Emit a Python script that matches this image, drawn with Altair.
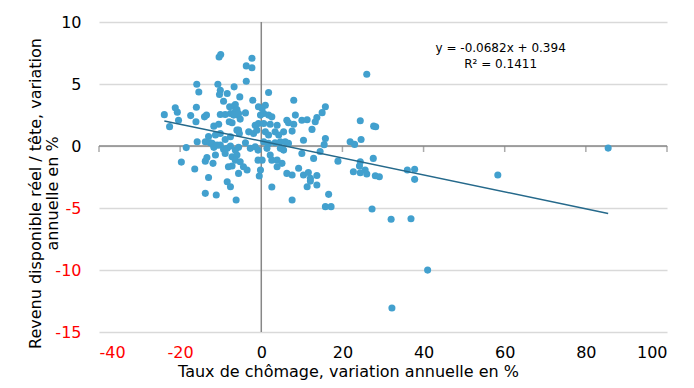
import altair as alt
import pandas as pd

# Scatter values
x_vals = [
    -23.9, -21.2, -20.7, -20.4, -22.6, -17.4, -18.5, -19.7, -16.4, -16.0,
    -16.1, -15.9, -15.4, -14.0, -13.5, -15.8, -13.8, -13.0, -12.6, -13.8,
    -13.4, -11.9, -13.0, -13.8, -11.1, -11.7, -10.5, -10.7, -10.1, -10.3,
    -8.4, -6.7, -10.0, -10.4, -9.3, -10.1, -8.9, -7.6, -6.8, -6.4,
    -5.8, -7.2, -5.2, -3.9, -5.6, -7.6, -11.3, -10.1, -8.9, -12.1,
    -11.7, -10.9, -10.1, -9.3, -8.4, -7.6, -6.4, -5.6, -3.9, -2.7,
    -1.5, -0.8, -11.3, -8.9, -7.2, -6.0, -6.4, -7.2, -8.1, -5.2,
    -4.4, -3.5, -5.6, -8.4, -7.6, -6.2, -0.8, -0.5, -5.3, -6.4,
    -7.8, -6.0, -6.8, -5.6, -7.9, -6.0, -5.4, -3.1, -1.9, -1.1,
    -1.5, -0.7, -3.7, -3.7, -2.3, -2.3, -2.1, -0.7,
    1.8, 8.0, 1.0, 0.2, 0.6, -0.2, 1.8, 2.6, 8.4, 15.8,
    15.0, 13.7, 13.3, 10.0, 11.3, 6.3, 6.7, 8.0, 0.6, 2.2,
    3.9, 12.5, 7.6, 5.5, 1.0, 1.8, 3.4, 4.3, 15.8, 15.5,
    10.4, 4.7, 5.9, 6.7, 0.6, 1.8, 3.4, 1.4, 4.7, 5.5,
    14.5, 10.0, 12.9, 2.2, 2.6, 3.9, 0.2, -0.2, 3.9, 5.1,
    6.3, 7.6, 9.2, 10.4, 11.6, 12.1, 13.7, 11.3, 13.7, 2.6,
    26.0, 24.4, 27.7, 28.2, 21.9, 23.0, 24.6, 18.9, 24.4, 24.2,
    27.6, 22.7, 24.4, 25.6, 26.0, 28.1, 29.1, 12.1, 7.6, 16.6,
    15.8, 17.2, 27.3, 32.0, 36.9, 41.0, 32.2, 36.0, 37.8, 37.8,
    58.3, 85.5,
]
y_vals = [
    2.53, 3.09, 2.73, 2.08, 1.56, 2.45, -0.13, -1.30, -1.86, 3.13,
    1.95, 4.98, 4.36, 2.35, 2.49, 0.34, 0.34, 0.76, 0.26, -1.22,
    -0.93, -1.40, -2.54, -3.82, -3.95, 1.60, 1.76, 4.98, 4.50, 4.15,
    4.23, 4.77, 7.37, 7.18, 3.61, 2.54, 2.54, 2.62, 3.21, 2.75,
    2.49, 1.87, 2.17, 2.67, 1.28, 0.74, 0.88, 1.01, 0.53, 0.21,
    -0.11, 0.07, 0.07, -0.27, -0.19, -0.01, -0.33, -0.11, 0.26, -0.19,
    -0.06, -0.33, -0.73, -0.60, -0.87, -0.73, -1.14, -1.62, -1.67, -1.27,
    -1.67, -1.94, -2.21, -2.88, -3.28, -4.36, -1.14, -2.42, 3.96, 3.35,
    3.16, 2.95, 2.49, 2.62, 1.95, 1.28, 1.01, 1.14, 1.01, 1.28,
    1.68, 1.82, 5.22, 6.46, 6.31, 7.08, 3.69, 3.16,
    4.31, 3.69, 3.29, 3.03, 2.62, 2.49, 2.49, 2.35, 2.49, 3.16,
    2.69, 2.29, 1.95, 2.08, 2.11, 2.08, 1.87, 1.76, 1.82, 1.76,
    1.68, 1.34, 1.20, 1.14, 1.14, 0.88, 1.14, 0.88, 0.61, 0.11,
    0.47, 0.34, 0.34, 0.21, 0.34, 0.21, 0.26, -0.19, -0.19, -0.33,
    -0.45, -0.60, -1.00, -0.73, -1.14, -1.14, -1.14, -1.94, -1.67, -1.40,
    -2.21, -2.34, -1.80, -2.34, -2.14, -2.61, -2.38, -3.28, -3.15, -3.31,
    5.79, 2.03, 1.60, 1.55, 0.34, 0.13, 0.53, -1.22, -1.27, -1.62,
    -1.00, -2.08, -2.16, -1.94, -2.26, -2.40, -2.48, -2.83, -4.36, -3.90,
    -4.89, -4.89, -5.08, -5.91, -5.86, -10.01, -13.07, -1.94, -1.88, -2.69,
    -2.34, -0.17,
]
assert len(x_vals) == len(y_vals)

slope = -0.0682
intercept = 0.394
eq_lines = ["y = -0.0682x + 0.394", "R² = 0.1411"]
eq_x = [59.0, 59.0]
eq_y = [7.9, 6.6]

x_ticks = [-40, -20, 0, 20, 40, 60, 80, 100]
y_ticks = [-15, -10, -5, 0, 5, 10]
x_title = "Taux de chômage, variation annuelle en %"
y_title = ["Revenu disponible réel / tête, variation", "annuelle en %"]

FONT = "DejaVu Sans"
POINT = "#42A0CE"
TREND = "#25698B"
AXISLINE = "#878787"
GRID = "#D9D9D9"

df = pd.DataFrame({"x": x_vals, "y": y_vals})
xmin, xmax = min(x_vals), max(x_vals)
trend_df = pd.DataFrame({"x": [xmin, xmax], "y": [slope * xmin + intercept, slope * xmax + intercept]})
eq_df = pd.DataFrame({"x": eq_x, "y": eq_y, "t": eq_lines})
zero_df = pd.DataFrame({"v": [0]})
tick_df = pd.DataFrame({"t": x_ticks, "z": [0] * len(x_ticks)})

neg_red = {"condition": {"test": "datum.value < 0", "value": "#FF0000"}, "value": "#000000"}

x_scale = alt.Scale(domain=[-40, 100], nice=False, zero=False)
y_scale = alt.Scale(domain=[-15, 10], nice=False, zero=False)

x_axis = alt.Axis(
    values=x_ticks, title=x_title, domain=False, ticks=False, grid=False,
    labelColor=neg_red, labelFont=FONT, labelFontSize=16, labelPadding=12,
    labelExpr="'' + datum.value",
    titleFont=FONT, titleFontSize=16, titleFontWeight="normal", titleColor="#000000",
    titleX=249, titleY=44, titleBaseline="alphabetic", titleAlign="center",
)
y_axis = alt.Axis(
    values=y_ticks, title=y_title, domain=False, ticks=False, grid=True,
    gridColor=GRID, gridWidth=1.5,
    labelColor=neg_red, labelFont=FONT, labelFontSize=16, labelPadding=18,
    labelExpr="'' + datum.value",
    titleFont=FONT, titleFontSize=16, titleFontWeight="normal", titleColor="#000000",
    titleX=-64, titleY=171, titleBaseline="middle", titleAlign="center",
    titleLineHeight=17, titleAngle=270,
)

points = alt.Chart(df).mark_circle(size=50, color=POINT, opacity=1).encode(
    x=alt.X("x:Q", scale=x_scale, axis=x_axis),
    y=alt.Y("y:Q", scale=y_scale, axis=y_axis),
)
vline = alt.Chart(zero_df).mark_rule(color=AXISLINE, strokeWidth=1.5).encode(x="v:Q")
hline = alt.Chart(zero_df).mark_rule(color=AXISLINE, strokeWidth=1.5).encode(y="v:Q")
ticks = alt.Chart(tick_df).mark_tick(
    orient="vertical", size=6, thickness=1.5, yOffset=3, color=AXISLINE
).encode(x="t:Q", y="z:Q")
trend = alt.Chart(trend_df).mark_line(color=TREND, strokeWidth=1.5).encode(x="x:Q", y="y:Q")
eq = alt.Chart(eq_df).mark_text(font=FONT, fontSize=12, color="#000000", baseline="middle").encode(
    x="x:Q", y="y:Q", text="t:N"
)

chart = alt.layer(vline, hline, ticks, points, trend, eq).properties(
    width=568, height=310, autosize="none",
    padding={"left": 91, "top": 14, "right": 19, "bottom": 48},
).configure_view(stroke=None)

chart.save("out.html", embed_options={"renderer": "svg", "actions": False})
